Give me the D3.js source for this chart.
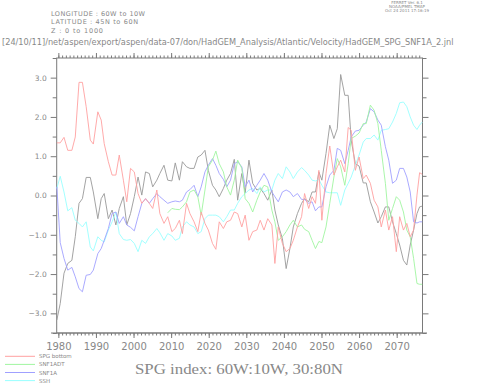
<!doctype html>
<html>
<head>
<meta charset="utf-8">
<title>SPG index</title>
<script src="https://d3js.org/d3.v7.min.js"></script>
<style>
  body { margin:0; background:#fff; }
  svg { display:block; }
  text { font-family: "DejaVu Sans", "Liberation Sans", sans-serif; fill:#888; }
</style>
</head>
<body>
<div id="chart"></div>
<script>
// sample positions (years)
var years = [1979.6,1980.5,1981.5,1982.5,1983.6,1984.5,1985.5,1986.4,1987.4,1988.5,1989.3,1990.5,1991.4,1992.2,1993.3,1994.3,1995.3,1996.2,1997.3,1998.2,1999.2,2000.2,2001.2,2002.2,2003.2,2004.2,2005.1,2006.2,2007.0,2008.1,2009.1,2010.2,2011.1,2012.2,
  2013.0,2014.1,2015.0,2016.1,2017.1,2018.0,2019.0,2019.9,2021.0,2021.9,2022.8,2023.9,2024.8,2025.8,2026.8,2027.7,2028.8,2029.7,2030.7,2031.7,2032.8,2033.7,2034.7,2035.7,2036.8,2037.6,2038.5,2039.6,2040.6,2041.6,2042.5,2043.6,
  2044.7,2045.5,2046.6,2047.5,2048.4,2049.3,2050.1,2051.2,2052.2,2053.3,2054.2,2055.1,2056.2,2057.1,2057.9,2059.0,2060.0,2061.1,2061.9,2063.0,2064.0,2065.0,2065.9,2067.0,2067.9,2068.9,2069.9,2070.8,2071.8,2072.7,2073.6,2074.5,2075.4,2076.1,2076.8];

var spgBottom = [1.34,1.34,1.48,1.15,1.15,1.49,2.88,2.88,2.26,1.41,1.31,2.13,1.92,1.32,0.86,0.52,0.52,1.03,0.39,-0.16,0.69,0.60,0.05,-0.20,-0.08,-0.20,-0.33,0.14,-0.46,-0.71,-0.54,-0.92,-0.84,-0.63,
  -0.97,-0.20,-0.46,-0.67,-0.92,-0.42,-0.71,-0.88,-1.22,-1.37,-0.67,-0.84,-0.67,-0.63,-0.42,-0.46,-0.80,-0.50,-1.14,-0.92,-0.88,-0.63,-0.88,-0.59,-0.75,-1.73,-0.80,-1.22,-1.43,-1.35,-1.14,-0.80,
  -0.54,0.05,-0.33,-0.03,-0.20,0.64,-0.63,0.56,1.26,0.52,0.73,0.90,0.60,1.73,1.66,0.64,0.98,0.43,0.52,0.31,-0.12,-0.29,-0.80,-0.37,-0.88,-0.54,-1.43,-0.54,-0.88,-0.71,-1.05,-0.88,0.01,0.58,0.54];

var snf1adt = [null,null,null,null,null,null,null,null,null,null,null,null,null,null,null,null,null,null,null,null,null,null,null,null,null,null,null,null,null,null,-0.44,-0.33,-0.35,-0.36,
  -0.29,-0.16,0.09,0.14,-0.03,-0.50,0.14,0.73,0.90,1.13,0.81,0.60,0.22,0.01,0.39,0.90,0.69,-0.08,-0.20,-0.42,-0.12,0.09,0.26,0.22,-0.37,-0.67,-1.14,-1.05,-0.92,-0.75,-0.63,-0.80,
  -0.75,-0.86,-0.92,-1.14,-1.35,-1.17,-1.20,-0.80,-0.20,0.47,0.94,0.73,0.26,0.81,1.45,1.51,1.59,1.83,1.83,2.30,2.17,1.83,1.15,0.31,-0.63,-0.33,-0.03,-0.12,-0.42,-0.88,-1.05,-1.60,-2.24,-2.26,-2.26];

var snf1a = [0.22,-1.20,-1.60,-1.90,-1.83,-2.07,-2.37,-2.45,-2.03,-2.01,-1.90,-1.48,-1.35,-1.14,-0.84,-0.46,-0.42,-0.71,-0.54,-0.75,-0.81,-0.90,-0.54,-0.20,-0.08,-0.20,-0.08,0.05,-0.03,-0.12,-0.20,-0.16,-0.14,-0.16,
  -0.12,0.09,0.15,0.26,-0.03,0.22,0.60,0.77,0.94,0.77,0.56,0.41,0.22,0.39,0.81,0.86,0.73,0.22,0.39,0.09,0.26,0.39,0.56,0.39,0.09,-0.03,-0.16,0.09,0.14,0.09,-0.03,0.05,
  -0.10,-0.10,-0.20,-0.16,-0.39,-0.29,-0.29,0.22,0.52,0.64,1.20,1.15,0.81,1.15,1.49,1.64,1.66,1.79,1.87,2.21,2.13,1.92,1.79,1.24,0.90,0.31,0.39,0.69,0.69,0.47,0.09,-0.67,-0.70,-0.67,-0.67];

var ssh = [0.18,0.49,0.09,-0.39,-0.31,-0.63,-0.71,-0.80,-0.67,-1.31,-1.41,-1.05,-1.14,-1.18,-0.88,-0.67,-0.42,-0.97,-1.12,-1.14,-1.12,-1.22,-1.43,-1.14,-1.22,-1.05,-0.97,-0.84,-0.95,-1.14,-0.97,-1.03,-1.14,-1.09,
  -0.80,-0.67,-0.75,-0.80,-0.97,-0.92,-0.59,-0.50,-0.50,-0.50,-0.54,-0.67,-0.54,-0.37,-0.37,-0.20,-0.03,0.05,0.14,0.18,0.05,0.22,0.09,0.14,0.14,0.39,0.56,0.43,0.73,0.60,0.43,0.60,
  0.71,0.64,0.52,0.39,0.37,0.41,0.26,0.09,0.07,0.07,0.07,-0.25,0.14,0.31,0.47,0.77,1.03,1.36,1.45,1.45,1.54,1.41,1.66,1.68,1.70,1.87,2.09,2.36,2.38,2.26,2.00,1.79,1.68,1.79,1.87];

// fifth (unlabelled) series drawn in grey
var extra = [-3.17,-2.75,-1.98,-1.73,-1.65,-1.05,-0.20,-0.08,0.46,0.46,0.09,-0.59,-0.08,0.05,-0.59,-0.37,-0.75,-0.33,-0.03,-0.75,-0.46,-0.03,0.47,0.01,0.60,0.56,0.22,0.39,0.56,0.77,0.39,0.37,0.83,0.39,
  0.86,0.73,0.69,0.69,0.98,1.03,1.15,0.64,0.26,0.14,-0.03,0.18,0.39,0.56,0.92,-0.12,0.56,0.07,0.90,0.31,0.14,0.18,0.05,-0.12,0.14,-0.37,-0.75,-1.10,-1.86,-1.35,-0.80,-0.46,
  -0.20,-0.08,-0.16,0.09,0.09,0.60,0.39,1.07,1.79,1.45,1.70,3.08,2.55,2.55,1.41,0.81,0.75,0.32,0.32,-0.16,-0.42,-0.70,-0.54,-0.29,-0.29,-0.67,-0.97,-1.26,-1.65,-1.77,-1.26,-0.88,-0.46,-0.29,-0.27];

var seriesNames = ["SPG bottom", "SNF1ADT", "SNF1A", "SSH"];
var xTickYears = [1980,1990,2000,2010,2020,2030,2040,2050,2060,2070];
var yTickVals = [-3,-2,-1,0,1,2,3];

var width = 483, height = 383;
var svg = d3.select("#chart").append("svg")
  .attr("width", width).attr("height", height);

var x = d3.scaleLinear().domain([1979.56, 2076.87]).range([56.7, 422.5]);
var y = d3.scaleLinear().domain([-3.5, 3.5]).range([333, 58]);

//header
var hdr = svg.append("g").attr("font-size", 6.5);
hdr.append("text").attr("x", 51).attr("y", 15.5).attr("textLength", 94).text("LONGITUDE : 60W to 10W");
hdr.append("text").attr("x", 51).attr("y", 24).attr("textLength", 87).text("LATITUDE : 45N to 60N");
hdr.append("text").attr("x", 51).attr("y", 32.5).attr("textLength", 52).text("Z : 0 to 1000");

var fer = svg.append("g").attr("font-size", 4).attr("text-anchor", "middle");
fer.append("text").attr("x", 407).attr("y", 4).text("FERRET Ver. 6.1");
fer.append("text").attr("x", 407).attr("y", 8).text("NOAA/PMEL TMAP");
fer.append("text").attr("x", 407).attr("y", 12).text("Oct 24 2011 17:16:19");

// run path line, squeezed to the page width
svg.append("text").attr("x", 2).attr("y", 45)
  .attr("fill", "#999")
  .style("font-size", "8.2px")
  .text("[24/10/11]/net/aspen/export/aspen/data-07/don/HadGEM_Analysis/Atlantic/Velocity/HadGEM_SPG_SNF1A_2.jnl");

// axes
var axisCol = "#7a7a7a";
function styleAxis(g) {
  g.select(".domain").remove();
  g.selectAll("line").attr("stroke", axisCol);
  g.selectAll("text").attr("fill", "#888").attr("font-family", "DejaVu Sans, sans-serif");
}

var minorYears = d3.range(1980, 2077);
svg.append("g").attr("transform", "translate(0,333)")
  .call(d3.axisBottom(x).tickValues(minorYears).tickSize(2.5).tickFormat(""))
  .call(styleAxis);
svg.append("g").attr("transform", "translate(0,333)")
  .call(d3.axisBottom(x).tickValues(xTickYears).tickSize(5).tickPadding(5).tickFormat(d3.format("d")))
  .call(styleAxis)
  .selectAll("text").attr("font-size", 10);
svg.append("g").attr("transform", "translate(0,58)")
  .call(d3.axisTop(x).tickValues(minorYears).tickSize(2.5).tickFormat(""))
  .call(styleAxis);
svg.append("g").attr("transform", "translate(0,58)")
  .call(d3.axisTop(x).tickValues(xTickYears).tickSize(5).tickFormat(""))
  .call(styleAxis);

var yMinor = d3.range(-3.5, 3.51, 1);
svg.append("g").attr("transform", "translate(56.7,0)")
  .call(d3.axisLeft(y).tickValues(yMinor).tickSize(4).tickFormat(""))
  .call(styleAxis);
svg.append("g").attr("transform", "translate(56.7,0)")
  .call(d3.axisLeft(y).tickValues(yTickVals).tickSize(6).tickPadding(4)
    .tickFormat(function(d){ return (d < 0 ? "\u2212" : "") + Math.abs(d).toFixed(1); }))
  .call(styleAxis)
  .selectAll("text").attr("font-size", 7.5);
svg.append("g").attr("transform", "translate(422.5,0)")
  .call(d3.axisRight(y).tickValues(yMinor).tickSize(4).tickFormat(""))
  .call(styleAxis);
svg.append("g").attr("transform", "translate(422.5,0)")
  .call(d3.axisRight(y).tickValues(yTickVals).tickSize(6).tickFormat(""))
  .call(styleAxis);

// frame
svg.append("rect").attr("x", 56.7).attr("y", 58).attr("width", 422.5 - 56.7).attr("height", 333 - 58)
  .attr("fill", "none").attr("stroke", axisCol).attr("stroke-width", 1);
svg.append("line").attr("x1", 51).attr("x2", 427).attr("y1", 333).attr("y2", 333)
  .attr("stroke", axisCol);

// lines
var line = d3.line()
  .defined(function(d){ return d[1] != null; })
  .x(function(d){ return x(d[0]); })
  .y(function(d){ return y(d[1]); });

var series = [
  {vals: extra, col: "#999999"},
  {vals: ssh, col: "#99ffff"},
  {vals: snf1a, col: "#a0a0ff"},
  {vals: snf1adt, col: "#a0f5a0"},
  {vals: spgBottom, col: "#ffa0a0"}
];
svg.append("g").selectAll("path")
  .data(series).enter().append("path")
  .attr("fill", "none")
  .attr("stroke", function(d){ return d.col; })
  .attr("stroke-width", 0.9)
  .attr("d", function(d){ return line(years.map(function(yr, i){ return [yr, d.vals[i]]; })); });

// legend
var legCols = ["#ffa0a0", "#a0f5a0", "#a0a0ff", "#99ffff"];
var leg = svg.append("g").selectAll("g").data(seriesNames).enter().append("g")
  .attr("transform", function(d, i){ return "translate(0," + (356.3 + i * 8.1) + ")"; });
leg.append("line").attr("x1", 5).attr("x2", 35).attr("stroke", function(d, i){ return legCols[i]; });
leg.append("text").attr("x", 39).attr("y", 2).attr("font-size", 5.5).text(function(d){ return d; });

// title
svg.append("text").attr("x", 135).attr("y", 374).attr("font-size", 15)
  .attr("textLength", 208).attr("lengthAdjust", "spacingAndGlyphs")
  .attr("fill", "#999")
  .style("font-family", "'Liberation Serif', serif")
  .text("SPG index: 60W:10W, 30:80N");
</script>
</body>
</html>
